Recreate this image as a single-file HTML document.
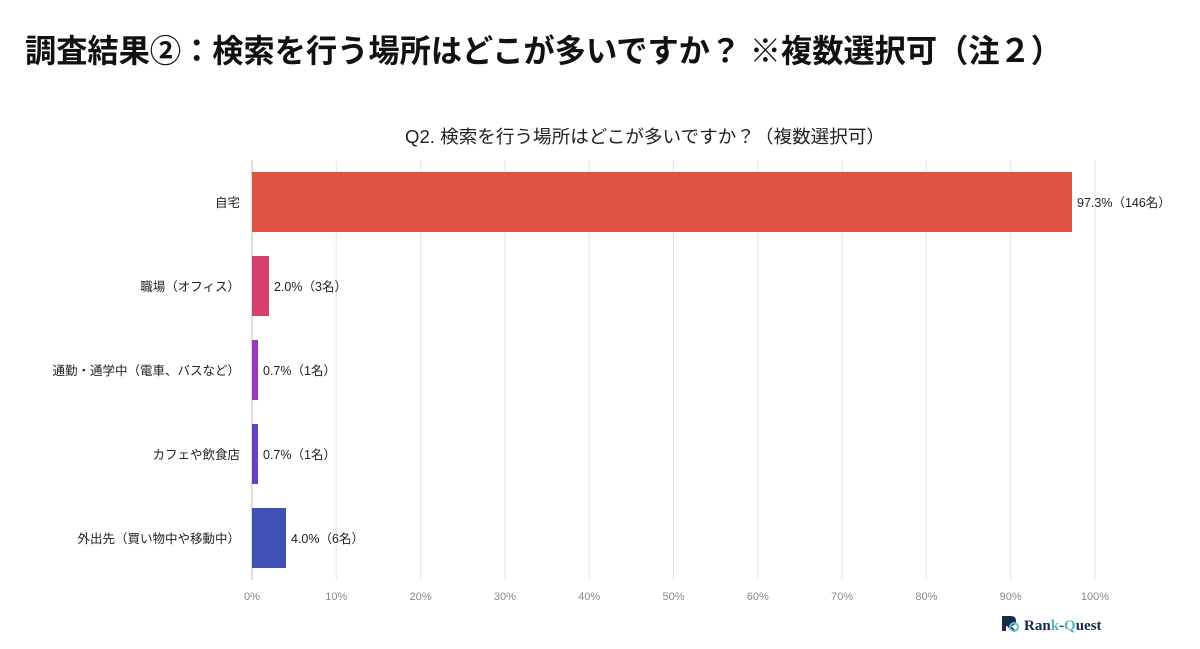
<!DOCTYPE html>
<html><head><meta charset="utf-8"><style>
html,body{margin:0;padding:0;background:#fff}
svg{display:block}
text{font-family:"Liberation Sans","Noto Sans CJK JP",sans-serif}
</style></head><body>
<svg width="1200" height="649" viewBox="0 0 1200 649" xmlns="http://www.w3.org/2000/svg">
<rect width="1200" height="649" fill="#fff"/>
<text x="25" y="62" font-size="32" font-weight="bold" fill="#111" textLength="1037" lengthAdjust="spacingAndGlyphs">調査結果②：検索を行う場所はどこが多いですか？ ※複数選択可（注２）</text>
<text x="645" y="143" font-size="18" fill="#222" text-anchor="middle" textLength="480" lengthAdjust="spacingAndGlyphs">Q2. 検索を行う場所はどこが多いですか？（複数選択可）</text>
<g stroke="#e6e6e6" stroke-width="1">
<line x1="336.3" y1="160" x2="336.3" y2="580"/>
<line x1="420.6" y1="160" x2="420.6" y2="580"/>
<line x1="504.9" y1="160" x2="504.9" y2="580"/>
<line x1="589.2" y1="160" x2="589.2" y2="580"/>
<line x1="673.5" y1="160" x2="673.5" y2="580"/>
<line x1="757.8" y1="160" x2="757.8" y2="580"/>
<line x1="842.1" y1="160" x2="842.1" y2="580"/>
<line x1="926.4" y1="160" x2="926.4" y2="580"/>
<line x1="1010.7" y1="160" x2="1010.7" y2="580"/>
<line x1="1095" y1="160" x2="1095" y2="580"/>
</g>
<line x1="252" y1="160" x2="252" y2="580" stroke="#bbb" stroke-width="1"/>
<rect x="252" y="172" width="820" height="60" fill="#e05343"/>
<rect x="252" y="256" width="17" height="60" fill="#d8406c"/>
<rect x="252" y="340" width="6" height="60" fill="#9b36be"/>
<rect x="252" y="424" width="6" height="60" fill="#6a42c0"/>
<rect x="252" y="508" width="34" height="60" fill="#3f51b5"/>
<g font-size="12.5" fill="#222">
<text x="1077" y="207">97.3%（146名）</text>
<text x="274" y="291">2.0%（3名）</text>
<text x="263" y="375">0.7%（1名）</text>
<text x="263" y="459">0.7%（1名）</text>
<text x="291" y="543">4.0%（6名）</text>
</g>
<g font-size="12.5" fill="#222" text-anchor="end">
<text x="240" y="207">自宅</text>
<text x="240" y="291">職場（オフィス）</text>
<text x="240" y="375">通勤・通学中（電車、バスなど）</text>
<text x="240" y="459">カフェや飲食店</text>
<text x="240" y="543">外出先（買い物中や移動中）</text>
</g>
<g font-size="11" fill="#888" text-anchor="middle">
<text x="252" y="600">0%</text>
<text x="336.3" y="600">10%</text>
<text x="420.6" y="600">20%</text>
<text x="504.9" y="600">30%</text>
<text x="589.2" y="600">40%</text>
<text x="673.5" y="600">50%</text>
<text x="757.8" y="600">60%</text>
<text x="842.1" y="600">70%</text>
<text x="926.4" y="600">80%</text>
<text x="1010.7" y="600">90%</text>
<text x="1095" y="600">100%</text>
</g>
<g transform="translate(1002,616)">
<path d="M0 0 H9 Q14 0 14 5 Q14 9 9 10 L14 15 H10 L5 10 H4 V15 H0 Z" fill="#1b2a4a"/>
<circle cx="12" cy="11" r="4" fill="none" stroke="#5cc4c9" stroke-width="2"/>
</g>
<text x="1024" y="630" font-size="15" font-weight="bold" fill="#1b2a4a" style="font-family:'Liberation Serif',serif">Ran<tspan fill="#4fb8c0">k</tspan>-<tspan fill="#4fb8c0">Q</tspan>uest</text>
</svg>
</body></html>
